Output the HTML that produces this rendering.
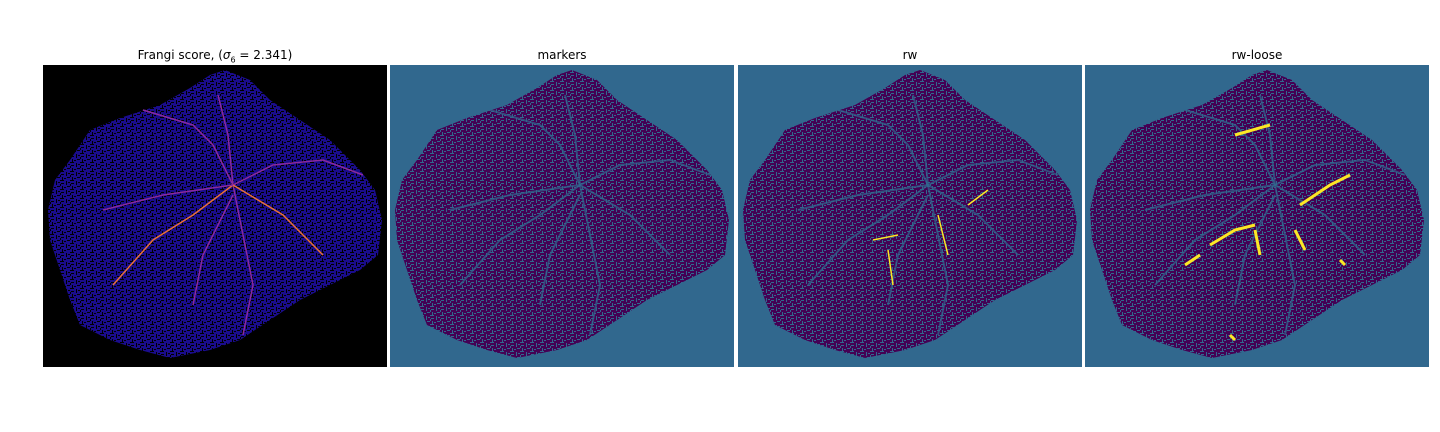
<!DOCTYPE html>
<html><head><meta charset="utf-8">
<style>
html,body{margin:0;padding:0;background:#fff;width:1440px;height:432px;overflow:hidden}
.t{position:absolute;font-family:"DejaVu Sans","Liberation Sans",sans-serif;font-size:12px;color:#000;text-align:center;width:344px;top:48px}
svg{position:absolute;left:0;top:0}
</style></head><body>
<div class="t" style="left:43px">Frangi score, (<i>σ</i><sub style="font-size:8px">6</sub> = 2.341)</div>
<div class="t" style="left:390px">markers</div>
<div class="t" style="left:738px">rw</div>
<div class="t" style="left:1085px">rw-loose</div>
<svg id="s" width="1440" height="432">
<defs>
<pattern id="pv" width="10" height="9" patternUnits="userSpaceOnUse">
<rect width="10" height="9" fill="#440154"/>
<rect x="0" y="0" width="4" height="1" fill="#31688e"/><rect x="6" y="1" width="1" height="4" fill="#31688e"/>
<rect x="1" y="3" width="3" height="1" fill="#31688e"/><rect x="7" y="6" width="3" height="1" fill="#31688e"/>
<rect x="2" y="6" width="1" height="3" fill="#31688e"/><rect x="0" y="4" width="1" height="2" fill="#31688e"/>
<rect x="4" y="7" width="2" height="1" fill="#31688e"/><rect x="8" y="2" width="2" height="1" fill="#31688e"/>
</pattern>
<pattern id="pf" width="10" height="9" patternUnits="userSpaceOnUse">
<rect width="10" height="9" fill="#1a0c8c"/>
<rect x="0" y="0" width="4" height="1" fill="#000"/><rect x="6" y="1" width="1" height="4" fill="#000"/>
<rect x="1" y="3" width="3" height="1" fill="#000"/><rect x="7" y="6" width="3" height="1" fill="#000"/>
<rect x="2" y="6" width="1" height="3" fill="#000"/><rect x="0" y="4" width="1" height="2" fill="#000"/>
<rect x="4" y="7" width="2" height="1" fill="#000"/><rect x="8" y="2" width="2" height="1" fill="#000"/>
</pattern>
</defs>
</svg>
<script>
const panelX=[43,390,738,1085];
const outline=[[182,5],[207,15],[227,35],[257,55],[287,75],[317,105],[332,125],[339,155],[335,190],[317,205],[287,220],[257,235],[227,255],[197,275],[167,285],[127,293],[97,285],[67,275],[37,260],[27,235],[17,205],[7,175],[5,145],[12,115],[27,95],[47,65],[77,53],[117,40],[147,23],[167,10]];
const vessels=[[[190,120],[150,150],[110,175],[70,220]],[[190,120],[230,100],[280,95],[320,110]],[[190,120],[170,80],[150,60],[100,45]],[[190,120],[200,170],[210,220],[200,270]],[[190,120],[240,150],[280,190]],[[190,120],[120,130],[60,145]],[[190,130],[160,190],[150,240]],[[190,120],[185,70],[175,30]]];
const yellowRW=[[[135,175],[160,170]],[[150,185],[155,220]],[[230,140],[250,125]],[[200,150],[210,190]]];
const yellowLoose=[[[125,180],[150,165],[170,160]],[[170,165],[175,190]],[[215,140],[245,120],[265,110]],[[210,165],[220,185]],[[150,70],[185,60]],[[255,195],[260,200]],[[145,270],[150,275]],[[100,200],[115,190]]];
const s=document.getElementById('s');const NS='http://www.w3.org/2000/svg';
function mk(t,a){const e=document.createElementNS(NS,t);for(const k in a)e.setAttribute(k,a[k]);s.appendChild(e);return e;}
function pts(px,arr){return arr.map(p=>(px+p[0])+','+(65+p[1])).join(' ');}
panelX.forEach((px,i)=>{
 const bg=mk('rect',{x:px,y:65,width:344,height:302,fill:i==0?'#000':'#31688e'});
 
 
 const b=mk('polygon',{points:pts(px,outline),fill:i==0?'url(#pf)':'url(#pv)'});
 
 
 if(i>0){vessels.forEach(v=>{const l=mk('polyline',{points:pts(px,v),fill:'none',stroke:'#31688e','stroke-width':2,opacity:0.7});
  
  });}
 else{vessels.forEach((v,j)=>{const l=mk('polyline',{points:pts(px,v),fill:'none',stroke:j%4==0?'#e8703a':'#8a2a9e','stroke-width':1.5});
  
  });}
 const ys=i==2?yellowRW:i==3?yellowLoose:[];
 ys.forEach(v=>{const l=mk('polyline',{points:pts(px,v),fill:'none',stroke:'#fde725','stroke-width':i==3?3:1.5});
  
  });
});
</script>
</body></html>
